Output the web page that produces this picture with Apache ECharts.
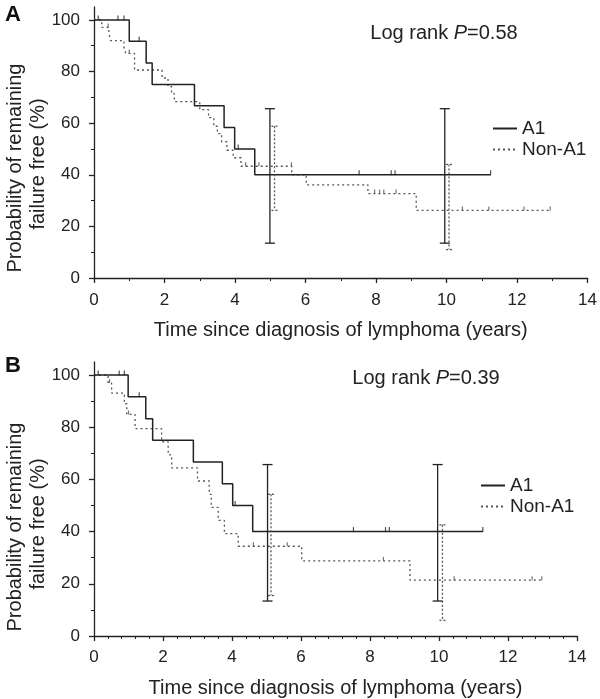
<!DOCTYPE html>
<html>
<head>
<meta charset="utf-8">
<script src="https://cdn.jsdelivr.net/npm/echarts@6/dist/echarts.min.js"></script>
<style>
  html, body { margin: 0; padding: 0; background: #fff; }
  #chart { width: 600px; height: 699px; }
</style>
</head>
<body>
<div id="chart"></div>
<script>
// 카플란-마이어 곡선 두 패널 (A: P=0.58, B: P=0.39)

const FONT = '"Liberation Sans", Arial, Helvetica, sans-serif';
const INK = "#222";
const DOT = "#555";

const X_TICKS = [0, 2, 4, 6, 8, 10, 12, 14];
const Y_TICKS = [0, 20, 40, 60, 80, 100];

// ─── 패널 A ─────────────────────────────────────────────
const aA1Time = [0, 1.0, 1.48, 1.65, 2.85, 3.69, 3.99, 4.56, 11.25];
const aA1Surv = [100, 91.7, 83.3, 75, 66.7, 58.3, 50, 40, 40];
const aA1CensTime = [0.12, 0.68, 0.85, 1.28, 4.09, 7.52, 8.43, 8.54, 11.25];
const aA1CensSurv = [100, 100, 100, 91.7, 50, 40, 40, 40, 40];
const aA1Ci = [[4.99, 13.5, 65.6], [9.95, 13.5, 65.6]];

const aNonTime = [0, 0.22, 0.42, 0.47, 0.85, 0.9, 1.15, 1.93, 2.1, 2.2, 2.28, 3.0, 3.25, 3.4, 3.5, 3.62, 3.77, 3.95, 4.17, 5.61, 6.02, 7.77, 9.14, 12.94];
const aNonSurv = [100, 97.1, 95, 92, 89.4, 87, 80.6, 77.5, 74.2, 71.4, 68.3, 65.2, 62.1, 58.8, 55.9, 52.8, 49.5, 46.6, 43.3, 40.0, 36.1, 32.7, 26.2, 26.2];
const aNonCensTime = [0.4, 1.0, 4.3, 4.68, 5.6, 7.96, 8.1, 8.22, 8.57, 10.45, 11.2, 12.2, 12.94];
const aNonCensSurv = [97.1, 87, 43.3, 43.3, 43.3, 32.7, 32.7, 32.7, 32.7, 26.2, 26.2, 26.2, 26.2];
const aNonCi = [[5.12, 26.2, 58.8], [10.07, 11, 44]];

// ─── 패널 B ─────────────────────────────────────────────
const bA1Time = [0, 0.99, 1.5, 1.7, 2.88, 3.72, 4.02, 4.6, 11.27];
const bA1Surv = [100, 91.7, 83.3, 75, 66.7, 58.3, 50, 40, 40];
const bA1CensTime = [0.12, 0.73, 0.88, 1.31, 4.09, 7.52, 8.45, 8.56, 11.27];
const bA1CensSurv = [100, 100, 100, 91.7, 50, 40, 40, 40, 40];
const bA1Ci = [[5.03, 13.4, 65.7], [9.96, 13.4, 65.7]];

const bNonTime = [0, 0.41, 0.51, 0.88, 0.95, 1.19, 1.96, 2.15, 2.25, 3.0, 3.34, 3.4, 3.6, 3.78, 4.18, 6.02, 9.16, 12.98];
const bNonSurv = [100, 96.9, 93.1, 89, 84.9, 79.5, 74.4, 69.4, 64.4, 59.4, 54.3, 49.3, 44.3, 39.2, 34.4, 28.8, 21.4, 21.4];
const bNonCensTime = [0.45, 1.0, 4.62, 5.6, 8.39, 10.44, 12.7, 12.98];
const bNonCensSurv = [96.9, 84.9, 34.4, 34.4, 28.8, 21.4, 21.4, 21.4];
const bNonCi = [[5.13, 15.5, 54.3], [10.1, 6, 42.6]];

const zip = (xs, ys) => xs.map((x, i) => [x, ys[i]]);

// 신뢰구간 막대 (세로선 + 위아래 캡)
function ciRenderer(halfCap, dash, color) {
  return function (params, api) {
    const top = api.coord([api.value(0), api.value(2)]);
    const bot = api.coord([api.value(0), api.value(1)]);
    const style = { stroke: color, lineWidth: 1.3, lineDash: dash };
    return {
      type: "group",
      children: [
        { type: "line", shape: { x1: top[0], y1: top[1], x2: bot[0], y2: bot[1] }, style },
        { type: "line", shape: { x1: top[0] - halfCap, y1: top[1], x2: top[0] + halfCap, y2: top[1] }, style },
        { type: "line", shape: { x1: bot[0] - halfCap, y1: bot[1], x2: bot[0] + halfCap, y2: bot[1] }, style },
      ],
    };
  };
}

function panelSeries(idx, a1, a1Cens, a1Ci, non, nonCens, nonCi) {
  return [
    {
      name: "A1", type: "line", step: "end", xAxisIndex: idx, yAxisIndex: idx,
      data: a1, showSymbol: false, symbol: "none",
      lineStyle: { color: INK, width: 1.5 }, itemStyle: { color: INK }, z: 4,
    },
    {
      name: "Non-A1", type: "line", step: "end", xAxisIndex: idx, yAxisIndex: idx,
      data: non, showSymbol: false, symbol: "none",
      lineStyle: { color: DOT, width: 1.3, type: [2, 3] }, itemStyle: { color: DOT }, z: 3,
    },
    {
      name: "A1 censored", type: "scatter", xAxisIndex: idx, yAxisIndex: idx,
      data: a1Cens, symbol: "rect", symbolSize: [1.2, 5], symbolOffset: [0, -2],
      itemStyle: { color: INK }, silent: true,
    },
    {
      name: "Non-A1 censored", type: "scatter", xAxisIndex: idx, yAxisIndex: idx,
      data: nonCens, symbol: "rect", symbolSize: [1.2, 4], symbolOffset: [0, -2],
      itemStyle: { color: DOT }, silent: true,
    },
    {
      name: "A1 CI", type: "custom", xAxisIndex: idx, yAxisIndex: idx,
      data: a1Ci, renderItem: ciRenderer(5, null, INK), silent: true, z: 5,
    },
    {
      name: "Non-A1 CI", type: "custom", xAxisIndex: idx, yAxisIndex: idx,
      data: nonCi, renderItem: ciRenderer(3, [2, 2], DOT), silent: true, z: 5,
    },
  ];
}

function xAxis(idx, minorSplit, margin, nameGap) {
  return {
    type: "value", gridIndex: idx, min: 0, max: 14, interval: 2,
    name: "Time since diagnosis of lymphoma (years)",
    nameLocation: "middle", nameGap,
    nameTextStyle: { fontFamily: FONT, fontSize: 20, color: INK },
    axisLine: { lineStyle: { color: INK, width: 1.3 } },
    axisTick: { length: 5, customValues: X_TICKS, lineStyle: { color: INK, width: 1.3 } },
    minorTick: { show: true, splitNumber: minorSplit, length: 3, lineStyle: { color: INK, width: 1 } },
    axisLabel: { fontFamily: FONT, fontSize: 17, color: INK, margin, customValues: X_TICKS },
    splitLine: { show: false },
    minorSplitLine: { show: false },
  };
}

function yAxis(idx) {
  return {
    type: "value", gridIndex: idx, min: 0, max: 105, interval: 20,
    axisLine: { show: true, lineStyle: { color: INK, width: 1.3 } },
    axisTick: { show: true, length: 5, customValues: Y_TICKS, lineStyle: { color: INK, width: 1.3 } },
    minorTick: { show: true, splitNumber: 2, length: 3, lineStyle: { color: INK, width: 1 } },
    axisLabel: {
      fontFamily: FONT, fontSize: 17, color: INK, margin: 14, customValues: Y_TICKS,
      formatter: (v) => (Y_TICKS.includes(v) ? String(v) : ""),
    },
    splitLine: { show: false },
    minorSplitLine: { show: false },
  };
}

function legend(left, top) {
  return {
    data: ["A1", "Non-A1"], left, top, orient: "vertical",
    itemWidth: 24, itemHeight: 12, itemGap: 2,
    itemStyle: { opacity: 0 },
    textStyle: { fontFamily: FONT, fontSize: 19, color: INK },
    selectedMode: false,
  };
}

function text(x, y, content, size, opts) {
  return Object.assign({
    type: "text", x, y,
    style: {
      text: content, font: size + "px " + FONT, fill: INK,
      align: "center", verticalAlign: "middle",
    },
  }, opts || {});
}

function logRank(x, y, p) {
  return {
    type: "text", x, y,
    style: {
      text: "{n|Log rank }{i|P}{n|=" + p + "}",
      align: "center", verticalAlign: "middle", fill: INK,
      rich: {
        n: { fontFamily: FONT, fontSize: 20, fill: INK },
        i: { fontFamily: FONT, fontSize: 20, fontStyle: "italic", fill: INK },
      },
    },
  };
}

const chart = echarts.init(document.getElementById("chart"), null, { renderer: "canvas" });
chart.setOption({
  animation: false,
  backgroundColor: "#fff",
  textStyle: { fontFamily: FONT },
  grid: [
    { left: 94, right: 9, top: 7, bottom: 421 },
    { left: 94, right: 23, top: 362, bottom: 60 },
  ],
  xAxis: [xAxis(0, 2, 14, 42), xAxis(1, 5, 13, 42)],
  yAxis: [yAxis(0), yAxis(1)],
  legend: [legend(487, 114), legend(475, 471)],
  graphic: [
    { type: "text", x: 13, y: 15, style: { text: "A", font: "bold 22px " + FONT, fill: "#111", align: "center", verticalAlign: "middle" } },
    { type: "text", x: 13, y: 366, style: { text: "B", font: "bold 22px " + FONT, fill: "#111", align: "center", verticalAlign: "middle" } },
    text(15, 168, "Probability of remaining", 20, { rotation: Math.PI / 2 }),
    text(38, 164, "failure free (%)", 20, { rotation: Math.PI / 2 }),
    text(15, 527, "Probability of remaining", 20, { rotation: Math.PI / 2 }),
    text(38, 524, "failure free (%)", 20, { rotation: Math.PI / 2 }),
    logRank(444, 33, "0.58"),
    logRank(426, 378, "0.39"),
  ],
  series: [
    ...panelSeries(0, zip(aA1Time, aA1Surv), zip(aA1CensTime, aA1CensSurv), aA1Ci,
      zip(aNonTime, aNonSurv), zip(aNonCensTime, aNonCensSurv), aNonCi),
    ...panelSeries(1, zip(bA1Time, bA1Surv), zip(bA1CensTime, bA1CensSurv), bA1Ci,
      zip(bNonTime, bNonSurv), zip(bNonCensTime, bNonCensSurv), bNonCi),
  ],
});
</script>
</body>
</html>
